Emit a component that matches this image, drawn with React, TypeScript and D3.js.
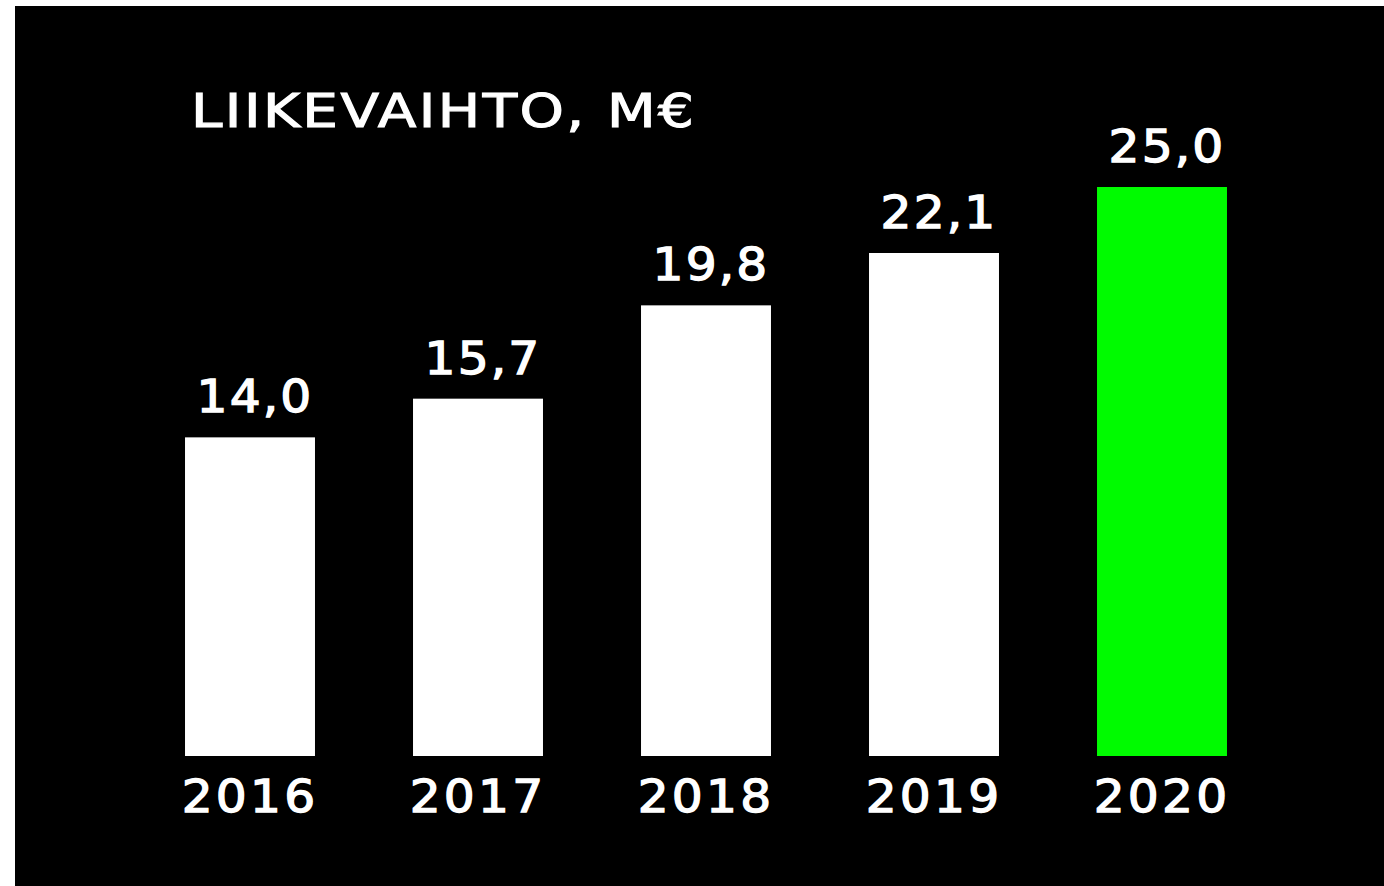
import React from "react"
import * as d3 from "d3"

// chart data
const years = ["2016", "2017", "2018", "2019", "2020"]
const revenue = [14.0, 15.7, 19.8, 22.1, 25.0]
const valueLabels = ["14,0", "15,7", "19,8", "22,1", "25,0"]
const title = "LIIKEVAIHTO, M€"

const W = 1384
const H = 886
const FONT = "'DejaVu Sans', sans-serif"

const App = () => {
	const x = d3
		.scaleBand<string>()
		.domain(years)
		.range([136, 1276])
		.paddingInner(0.43)
		.paddingOuter(0.215)

	const y = d3.scaleLinear().domain([0, 25]).range([756, 187])

	// shared text look: medium-weight wide sans
	const textStyle = {
		fill: "#fff",
		stroke: "#fff",
		strokeWidth: 1.3,
		fontFamily: FONT,
		fontWeight: 400,
	}

	// the original font is an extended face, so widen glyphs a bit
	const stretch = 1.2
	const numStretch = 1.08

	return (
		<svg
			width={W}
			height={H}
			style={{ position: "absolute", left: 0, top: 0, display: "block" }}
		>
			<rect x={0} y={0} width={W} height={H} fill="#fff" />
			<rect x={15} y={6} width={W - 15} height={H - 6} fill="#000" />

			{/* title */}
			<g transform={`translate(191,127) scale(${stretch},1)`}>
				<text
					x={0}
					y={0}
					{...textStyle}
					strokeWidth={1.1}
					fontSize={47}
					textLength={503 / stretch}
					lengthAdjust="spacing"
				>
					{title}
				</text>
			</g>

			{/* bars */}
			{years.map((yr, i) => (
				<rect
					key={yr}
					x={x(yr)}
					y={y(revenue[i])}
					width={x.bandwidth()}
					height={y(0) - y(revenue[i])}
					fill={i === years.length - 1 ? "#00fb00" : "#fff"}
				/>
			))}

			{/* value labels */}
			{years.map((yr, i) => (
				<g
					key={"v" + yr}
					transform={`translate(${(x(yr) ?? 0) + x.bandwidth() / 2 + 5},${
						y(revenue[i]) - 25
					}) scale(${numStretch},1)`}
				>
					<text
						x={0}
						y={0}
						textAnchor="middle"
						{...textStyle}
						fontSize={45}
						letterSpacing={2}
					>
						{valueLabels[i]}
					</text>
				</g>
			))}

			{/* year axis labels */}
			{years.map(yr => (
				<g
					key={"y" + yr}
					transform={`translate(${(x(yr) ?? 0) + x.bandwidth() / 2},812) scale(${numStretch},1)`}
				>
					<text
						x={0}
						y={0}
						textAnchor="middle"
						{...textStyle}
						fontSize={45}
						letterSpacing={3}
					>
						{yr}
					</text>
				</g>
			))}
		</svg>
	)
}

export default App
